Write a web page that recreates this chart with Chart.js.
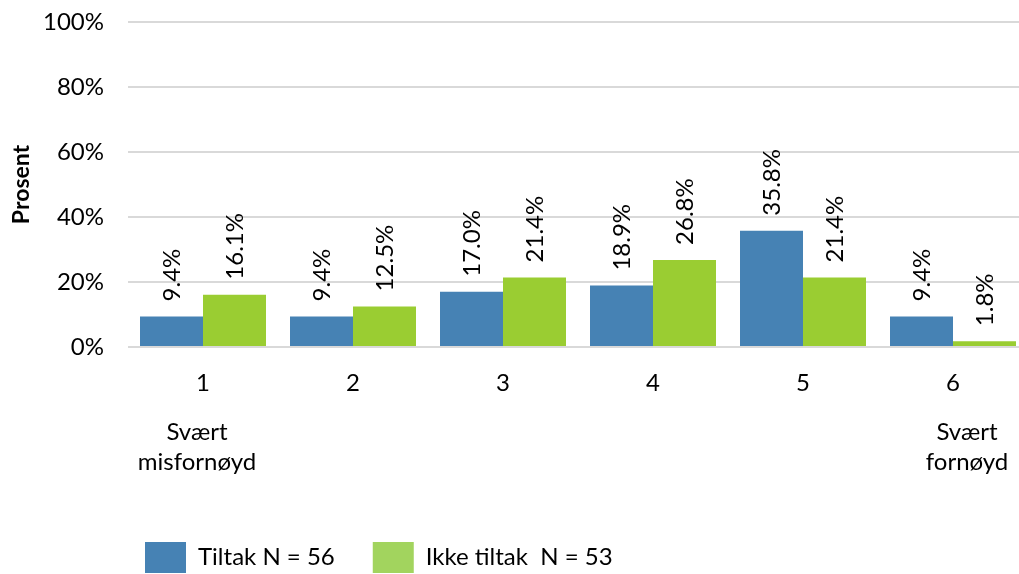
<!DOCTYPE html>
<html><head><meta charset="utf-8">
<script src="https://cdn.jsdelivr.net/npm/chart.js@4/dist/chart.umd.min.js"></script>
<style>html,body{margin:0;padding:0;overflow:hidden;background:#fff;width:1019px;height:574px}</style>
</head><body>
<canvas id="c" width="1030" height="574"></canvas>
<script>
const categories = ["1", "2", "3", "4", "5", "6"];
const subLabels = [["Svært", "misfornøyd"], [], [], [], [], ["Svært", "fornøyd"]];
const tiltak = [9.4, 9.4, 17.0, 18.9, 35.8, 9.4];
const ikkeTiltak = [16.1, 12.5, 21.4, 26.8, 21.4, 1.8];
const seriesNames = ["Tiltak N = 56", "Ikke tiltak  N = 53"];
const yTicks = [0, 20, 40, 60, 80, 100];

const FONT = "Lato, 'Open Sans', sans-serif";
const FS = 24;
const BLUE = "#4682B4", GREEN = "#9ACD32";
const LEGEND_COLORS = ["#4682B4", "#A2D45E"];

const valueLabels = {
  id: "valueLabels",
  afterDatasetsDraw(chart) {
    const ctx = chart.ctx;
    ctx.save();
    ctx.font = FS + "px " + FONT;
    ctx.fillStyle = "#000";
    ctx.textAlign = "left";
    ctx.textBaseline = "middle";
    chart.data.datasets.forEach((ds, di) => {
      chart.getDatasetMeta(di).data.forEach((bar, i) => {
        ctx.save();
        ctx.translate(bar.x + 1, bar.y - 15);
        ctx.rotate(-Math.PI / 2);
        ctx.fillText(ds.data[i].toFixed(1) + "%", 0, 0);
        ctx.restore();
      });
    });
    ctx.restore();
  }
};

const subLabelPlugin = {
  id: "subLabels",
  afterDraw(chart) {
    const ctx = chart.ctx, xs = chart.scales.x;
    const dx = [-6, 0, 0, 0, 0, 14];
    ctx.save();
    ctx.font = FS + "px " + FONT;
    ctx.fillStyle = "#000";
    ctx.textAlign = "center";
    ctx.textBaseline = "middle";
    subLabels.forEach((lines, i) => {
      const x = xs.getPixelForValue(i) + dx[i];
      lines.forEach((t, j) => ctx.fillText(t, x, 432 + j * 30));
    });
    ctx.restore();
  }
};

const legendMove = {
  id: "legendMove",
  afterLayout(chart) {
    chart.legend.left = 107;
    chart.legend.top = 504;
  }
};

new Chart(document.getElementById("c"), {
  type: "bar",
  data: {
    labels: categories,
    datasets: [
      { label: seriesNames[0], data: tiltak, backgroundColor: BLUE },
      { label: seriesNames[1], data: ikkeTiltak, backgroundColor: GREEN }
    ]
  },
  options: {
    responsive: false,
    animation: false,
    events: [],
    layout: { padding: { top: 22, left: 0, right: 2, bottom: 0 } },
    datasets: { bar: { categoryPercentage: 0.84, barPercentage: 1.0 } },
    scales: {
      x: {
        grid: { display: false },
        border: { display: false },
        ticks: { color: "#000", font: { family: FONT, size: FS }, padding: 14 },
        afterFit(s) { s.height = 148; }
      },
      y: {
        min: 0, max: 100,
        afterBuildTicks(s) { s.ticks = yTicks.map(v => ({ value: v })); },
        afterFit(s) { s.width = 128; },
        grid: { color: "#D9D9D9", lineWidth: 2, drawTicks: true, tickLength: 24, tickColor: "rgba(0,0,0,0)" },
        border: { display: false },
        ticks: { color: "#000", font: { family: FONT, size: FS }, padding: 0, callback: v => v + "%" },
        title: { display: true, text: "Prosent", color: "#000", font: { family: FONT, size: 23, weight: "bold" }, padding: 8 }
      }
    },
    plugins: {
      tooltip: { enabled: false },
      legend: {
        position: "bottom",
        align: "start",
        labels: {
          boxWidth: 41, boxHeight: 31, padding: 38,
          color: "#000", font: { family: FONT, size: FS },
          generateLabels(chart) {
            return chart.data.datasets.map((ds, i) => ({
              text: ds.label, fillStyle: LEGEND_COLORS[i], strokeStyle: LEGEND_COLORS[i],
              lineWidth: 0, datasetIndex: i, hidden: false
            }));
          }
        }
      }
    }
  },
  plugins: [valueLabels, subLabelPlugin, legendMove]
});
</script>
</body></html>
